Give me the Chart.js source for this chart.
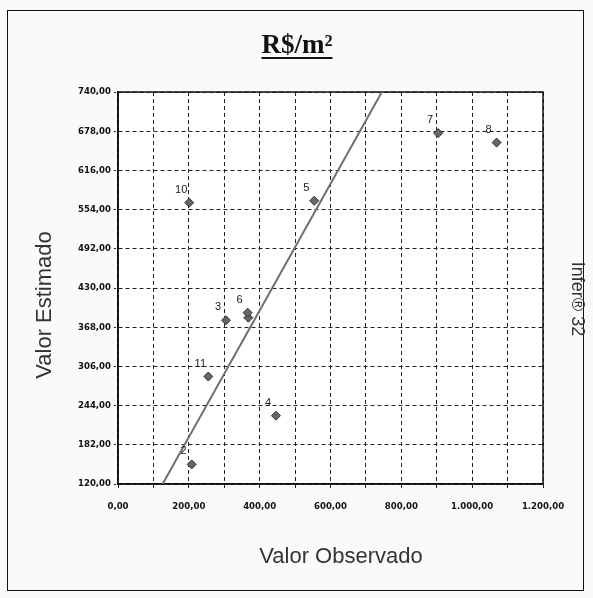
<!DOCTYPE html>
<html>
<head>
    <title>R$/m² - Valor Observado x Estimado</title>
    <script src="https://cdn.jsdelivr.net/npm/chart.js"></script>
    <style>
        html, body { margin: 0; padding: 0; background: #fafafa; }
        #wrap { position: relative; width: 593px; height: 598px; }
    </style>
</head>
<body>
    <div id="wrap">
        <canvas id="scatterChart" width="593" height="598"></canvas>
    </div>

    <script>
        // point numbers ('' = point hidden under another label)
        const pointLabels = ['', '2', '3', '4', '5', '6', '7', '8', '10', '11'];
        const observed  = [368, 208, 305, 446, 554, 366, 904, 1069, 201, 255];
        const estimated = [383, 151, 379, 228, 568, 391, 675, 660, 565, 290];

        // fitted line ends
        const lineX = [126, 745];
        const lineY = [120, 740];

        const xTickValues = [0, 100, 200, 300, 400, 500, 600, 700, 800, 900, 1000, 1100, 1200];
        const xLabelValues = [0, 200, 400, 600, 800, 1000, 1200];
        const yTickValues = [120, 182, 244, 306, 368, 430, 492, 554, 616, 678, 740];

        function fmt(v) {
            const parts = v.toFixed(2).split('.');
            const intPart = parts[0].replace(/\B(?=(\d{3})+(?!\d))/g, '.');
            return intPart + ',' + parts[1];
        }

        const tickFont = { family: "'Liberation Sans Narrow', 'DejaVu Sans Condensed', sans-serif", size: 9.5, weight: 'bold' };

        // white plot area, frame and the free texts
        const decor = {
            id: 'decor',
            beforeDraw(chart) {
                const { ctx, chartArea: a } = chart;
                ctx.save();
                ctx.fillStyle = '#fafafa';
                ctx.fillRect(0, 0, chart.width, chart.height);
                ctx.strokeStyle = '#111';
                ctx.lineWidth = 1;
                ctx.strokeRect(7.5, 10.5, 576, 580);
                ctx.fillStyle = '#ffffff';
                ctx.fillRect(a.left, a.top, a.right - a.left, a.bottom - a.top);
                ctx.restore();
            },
            beforeDatasetsDraw(chart) {
                const { ctx, chartArea: a } = chart;
                ctx.save();
                ctx.strokeStyle = '#111';
                ctx.lineWidth = 1.5;
                ctx.strokeRect(a.left, a.top, a.right - a.left, a.bottom - a.top);
                ctx.restore();
            },
            afterDraw(chart) {
                const { ctx } = chart;
                ctx.save();
                ctx.fillStyle = '#111';
                // title
                ctx.font = "bold 27px 'Liberation Serif', 'Times New Roman', serif";
                ctx.textAlign = 'center';
                ctx.textBaseline = 'alphabetic';
                const title = 'R$/m²';
                ctx.fillText(title, 297, 53);
                const w = ctx.measureText(title).width;
                ctx.fillRect(297 - w / 2, 57, w, 2);

                ctx.fillStyle = '#333';
                ctx.textBaseline = 'middle';
                ctx.font = "22px 'Liberation Sans', Arial, sans-serif";
                ctx.fillText('Valor Observado', 341, 557);

                ctx.save();
                ctx.translate(45, 305);
                ctx.rotate(-Math.PI / 2);
                ctx.fillText('Valor Estimado', 0, 0);
                ctx.restore();

                ctx.save();
                ctx.translate(577, 299);
                ctx.rotate(Math.PI / 2);
                ctx.font = "18px 'Liberation Sans', Arial, sans-serif";
                ctx.fillText('Infer® 32', 0, 0);
                ctx.restore();

                // point numbers
                const meta = chart.getDatasetMeta(1);
                ctx.font = "11px 'Liberation Sans', Arial, sans-serif";
                ctx.fillStyle = '#1a1a1a';
                meta.data.forEach((pt, i) => {
                    if (pointLabels[i]) ctx.fillText(pointLabels[i], pt.x - 8, pt.y - 13);
                });
                ctx.restore();
            }
        };

        new Chart(document.getElementById('scatterChart'), {
            type: 'scatter',
            data: {
                datasets: [
                    {
                        type: 'line',
                        data: lineX.map((x, i) => ({ x: x, y: lineY[i] })),
                        borderColor: '#707070',
                        borderWidth: 2,
                        pointRadius: 0,
                        fill: false
                    },
                    {
                        data: observed.map((x, i) => ({ x: x, y: estimated[i] })),
                        pointStyle: 'rectRot',
                        pointRadius: 4.5,
                        backgroundColor: '#666666',
                        borderColor: '#333333',
                        borderWidth: 1
                    }
                ]
            },
            options: {
                responsive: false,
                animation: false,
                layout: { padding: { top: 92, left: 0, right: 50, bottom: 0 } },
                plugins: {
                    legend: { display: false },
                    tooltip: { enabled: false }
                },
                scales: {
                    x: {
                        type: 'linear',
                        min: 0,
                        max: 1200,
                        afterBuildTicks: (scale) => { scale.ticks = xTickValues.map(v => ({ value: v })); },
                        afterFit: (scale) => { scale.height = 114; },
                        ticks: {
                            autoSkip: false,
                            maxRotation: 0,
                            padding: 13,
                            color: '#111',
                            font: tickFont,
                            callback: (v) => xLabelValues.includes(v) ? fmt(v) : ''
                        },
                        grid: { color: '#222', lineWidth: 1, tickLength: 4, tickColor: '#222' },
                        border: { display: true, color: '#111', width: 1.5, dash: [4, 3] }
                    },
                    y: {
                        type: 'linear',
                        min: 120,
                        max: 740,
                        afterBuildTicks: (scale) => { scale.ticks = yTickValues.map(v => ({ value: v })); },
                        afterFit: (scale) => { scale.width = 118; },
                        ticks: {
                            autoSkip: false,
                            padding: 3,
                            color: '#111',
                            font: tickFont,
                            callback: (v) => fmt(v)
                        },
                        grid: { color: '#222', lineWidth: 1, tickLength: 4, tickColor: '#222', tickBorderDash: [2, 2] },
                        border: { display: true, color: '#111', width: 1.5, dash: [4, 3] }
                    }
                }
            },
            plugins: [decor]
        });
    </script>
</body>
</html>
